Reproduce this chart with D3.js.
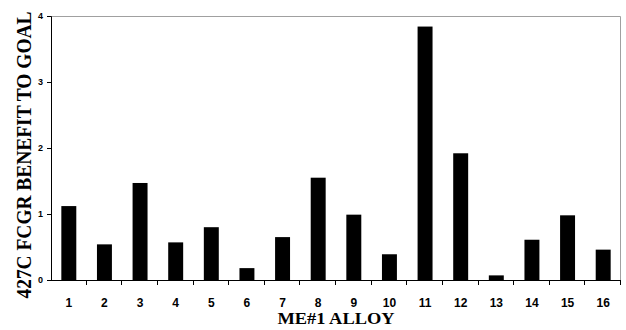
<!DOCTYPE html>
<html>
<head>
<meta charset="utf-8">
<script src="https://cdn.jsdelivr.net/npm/d3@7"></script>
<style>
  body { margin: 0; background: #fff; }
  svg { display: block; }
</style>
</head>
<body>
<div id="chart"></div>
<script>
// ME#1 alloys and their 427C FCGR benefit
const alloys = ["1","2","3","4","5","6","7","8","9","10","11","12","13","14","15","16"];
const benefit = [1.12, 0.54, 1.47, 0.57, 0.80, 0.18, 0.65, 1.55, 0.99, 0.39, 3.84, 1.92, 0.07, 0.61, 0.98, 0.46];
const yTicks = [0, 1, 2, 3, 4];

const width = 626, height = 330;
const margin = { top: 16, right: 5, bottom: 50, left: 51 };
const innerW = width - margin.left - margin.right;
const innerH = height - margin.top - margin.bottom;

const svg = d3.select("#chart")
  .append("svg")
  .attr("width", width)
  .attr("height", height);

const g = svg.append("g")
  .attr("transform", "translate(" + margin.left + "," + margin.top + ")");

const x = d3.scaleBand()
  .domain(alloys)
  .range([0, innerW])
  .paddingInner(0.58)
  .paddingOuter(0.29);

const y = d3.scaleLinear()
  .domain([0, 4])
  .range([innerH, 0]);

// gray frame on top and right
g.append("path")
  .attr("d", "M0,0.5H" + (innerW - 0.5) + "V" + innerH)
  .attr("fill", "none")
  .attr("stroke", "#a0a0a0")
  .attr("stroke-width", 1);

// bars
g.selectAll("rect.bar")
  .data(benefit)
  .enter()
  .append("rect")
  .attr("class", "bar")
  .attr("x", (d, i) => x(alloys[i]))
  .attr("y", d => y(d))
  .attr("width", x.bandwidth())
  .attr("height", d => y(0) - y(d))
  .attr("fill", "#000");

// y axis
const yAxis = g.append("g")
  .call(d3.axisLeft(y).tickValues(yTicks).tickSize(4).tickPadding(4).tickFormat(d3.format("d")));
yAxis.select(".domain").attr("stroke", "#000");
yAxis.selectAll("text")
  .attr("font-family", "Arial, 'Liberation Sans', sans-serif")
  .attr("font-weight", "bold")
  .attr("font-size", 9)
  .attr("fill", "#000");

// x axis: ticks between categories
const xAxis = g.append("g")
  .attr("transform", "translate(0," + innerH + ")");
xAxis.append("line")
  .attr("x1", 0).attr("x2", innerW)
  .attr("y1", 0.5).attr("y2", 0.5)
  .attr("stroke", "#000");
const bounds = d3.range(alloys.length + 1).map(i => i * innerW / alloys.length);
xAxis.selectAll("line.tick")
  .data(bounds.slice(1))
  .enter()
  .append("line")
  .attr("class", "tick")
  .attr("x1", d => Math.round(d) - 0.5)
  .attr("x2", d => Math.round(d) - 0.5)
  .attr("y1", 0)
  .attr("y2", 5)
  .attr("stroke", "#000");
xAxis.selectAll("text")
  .data(alloys)
  .enter()
  .append("text")
  .attr("x", d => x(d) + x.bandwidth() / 2)
  .attr("y", 26.5)
  .attr("text-anchor", "middle")
  .attr("font-family", "Arial, 'Liberation Sans', sans-serif")
  .attr("font-weight", "bold")
  .attr("font-size", 12)
  .text(d => d);

// axis titles
svg.append("text")
  .attr("x", margin.left + innerW / 2)
  .attr("y", 324)
  .attr("text-anchor", "middle")
  .attr("font-family", "'Times New Roman', 'Liberation Serif', serif")
  .attr("font-weight", "bold")
  .attr("font-size", 16)
  .attr("textLength", 117)
  .attr("lengthAdjust", "spacingAndGlyphs")
  .text("ME#1 ALLOY");

svg.append("text")
  .attr("transform", "translate(31,155) rotate(-90)")
  .attr("text-anchor", "middle")
  .attr("font-family", "'Times New Roman', 'Liberation Serif', serif")
  .attr("font-weight", "bold")
  .attr("font-size", 20)
  .attr("textLength", 287)
  .attr("lengthAdjust", "spacingAndGlyphs")
  .text("427C FCGR BENEFIT TO GOAL");
</script>
</body>
</html>
